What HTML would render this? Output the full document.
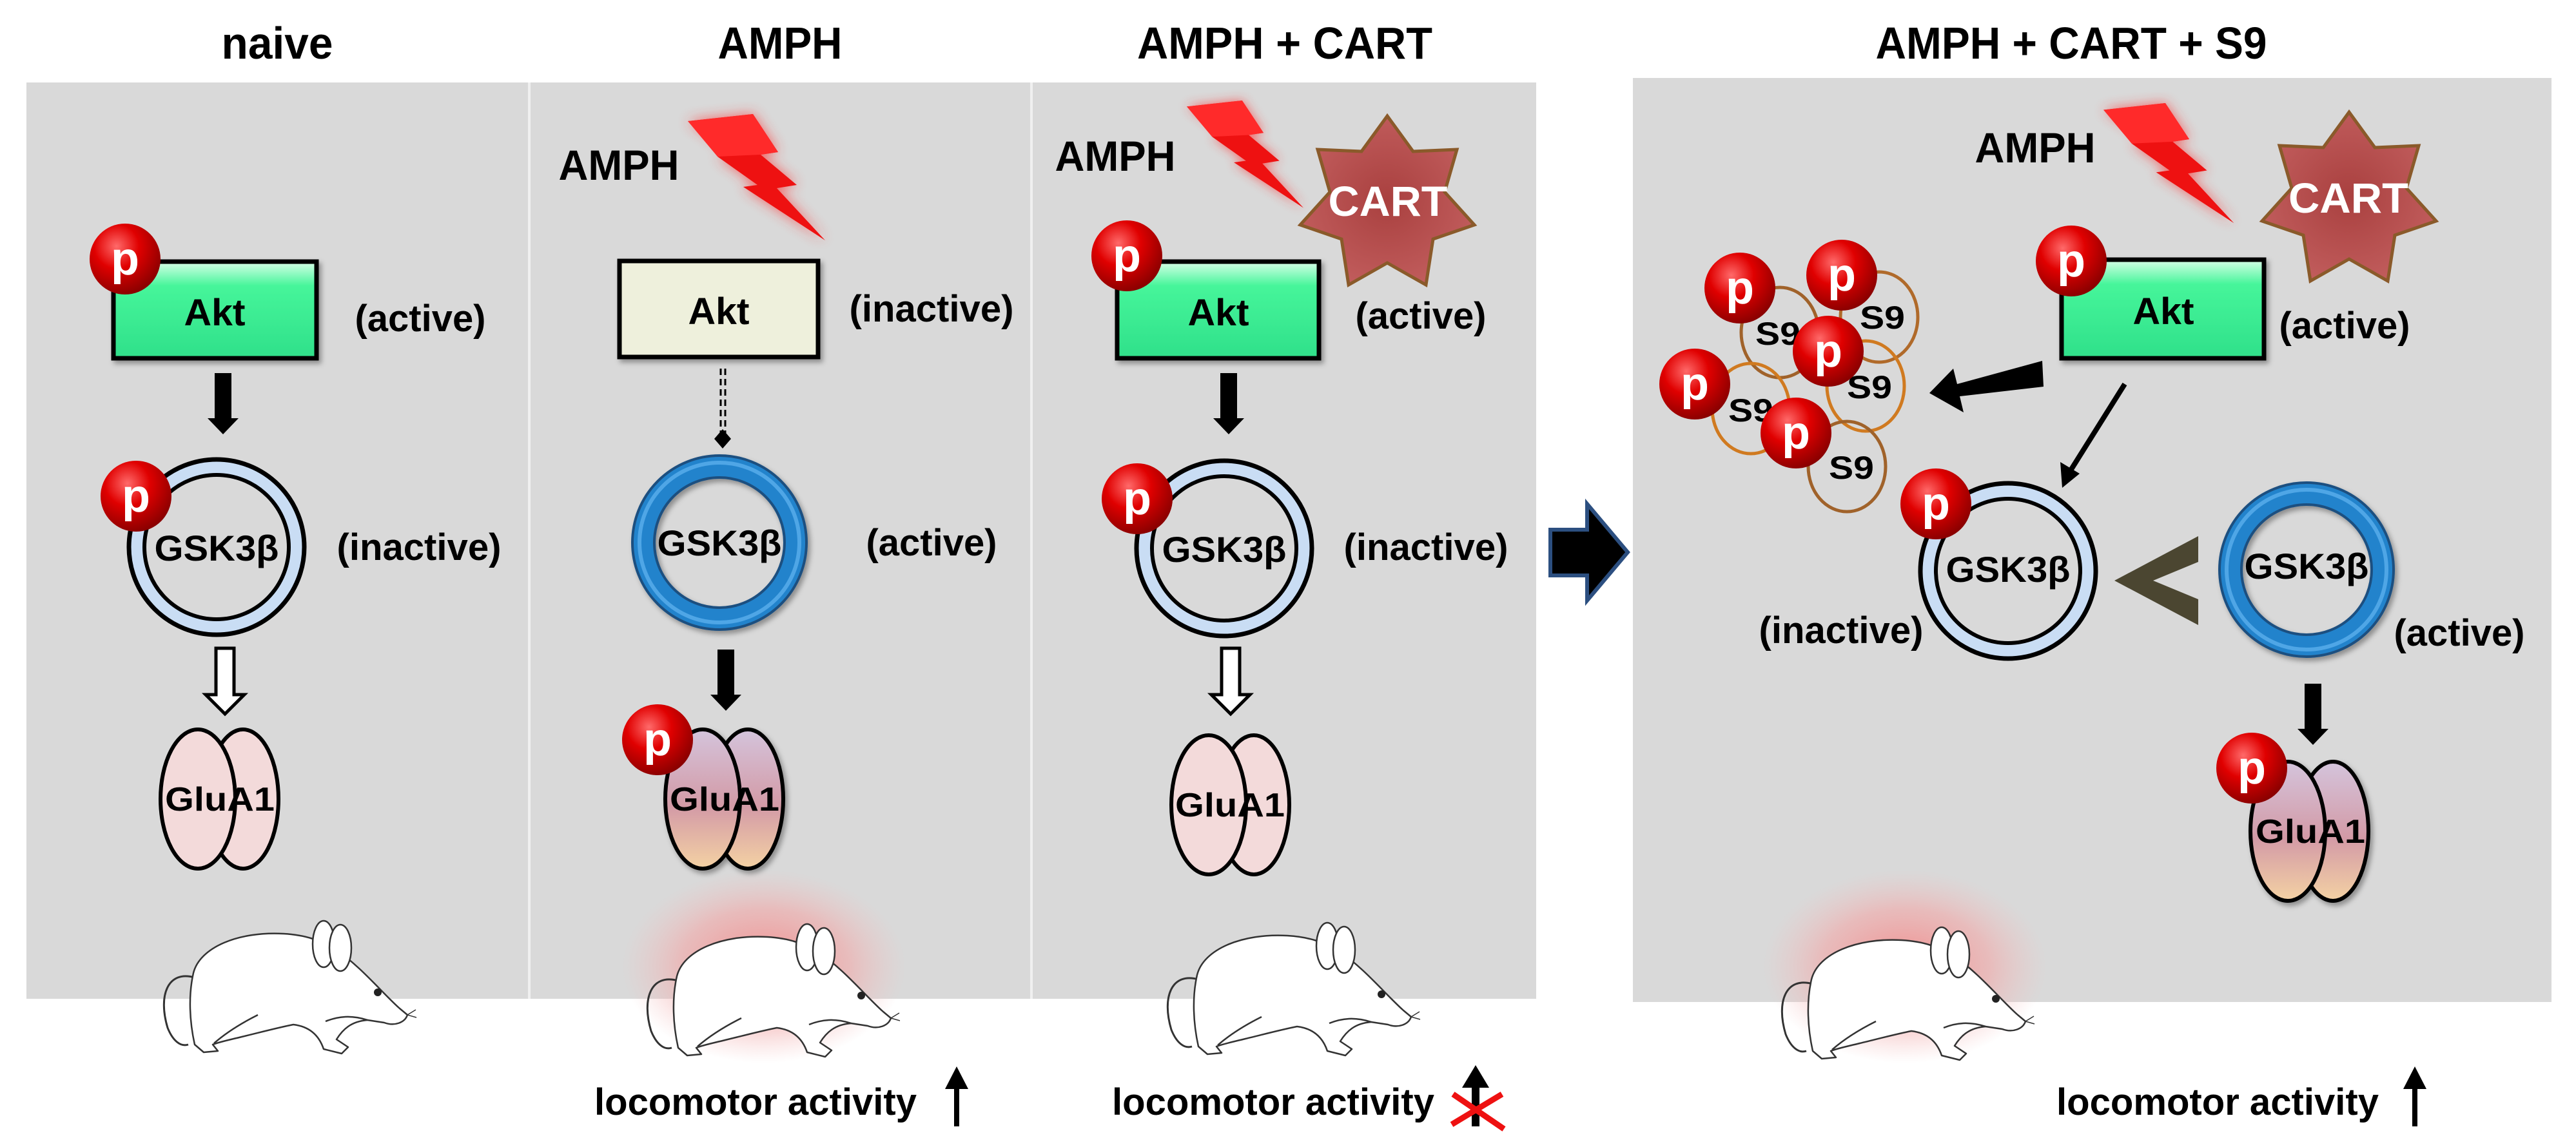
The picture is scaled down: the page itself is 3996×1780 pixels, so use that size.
<!DOCTYPE html>
<html><head><meta charset="utf-8"><style>
html,body{margin:0;padding:0;background:#fff}
svg{display:block}
text{font-family:"Liberation Sans",Arial,sans-serif;font-weight:bold;fill:#000}
</style></head><body>
<svg width="3996" height="1780" viewBox="0 0 3996 1780" xmlns="http://www.w3.org/2000/svg">
<defs>
<radialGradient id="pg" cx="0.38" cy="0.32" r="0.7">
<stop offset="0" stop-color="#ff6a6a"/><stop offset="0.45" stop-color="#e00000"/><stop offset="1" stop-color="#8a0000"/>
</radialGradient>
<linearGradient id="akt" x1="0" y1="0" x2="0" y2="1">
<stop offset="0" stop-color="#d8ffe8"/><stop offset="0.25" stop-color="#46f59a"/><stop offset="1" stop-color="#2fe08a"/>
</linearGradient>
<linearGradient id="glu2" x1="0" y1="0" x2="0" y2="1">
<stop offset="0" stop-color="#d4c4dc"/><stop offset="0.55" stop-color="#d39aa6"/><stop offset="1" stop-color="#f4d2a4"/>
</linearGradient>
<radialGradient id="star" cx="0.5" cy="0.5" r="0.6">
<stop offset="0" stop-color="#a9403f"/><stop offset="1" stop-color="#c46060"/>
</radialGradient>
<radialGradient id="glow" cx="0.5" cy="0.5" r="0.5">
<stop offset="0" stop-color="#f08a8a" stop-opacity="1"/><stop offset="0.6" stop-color="#f2a8a8" stop-opacity="0.6"/><stop offset="1" stop-color="#f2c0c0" stop-opacity="0"/>
</radialGradient>
<filter id="blur" x="-30%" y="-30%" width="160%" height="160%"><feGaussianBlur stdDeviation="10"/></filter>
<filter id="sh" x="-10%" y="-10%" width="130%" height="130%"><feDropShadow dx="4" dy="5" stdDeviation="4" flood-opacity="0.35"/></filter>
<g id="bolt">
<polygon points="0,11 101,0 140,59 113,63 169,110 138,115 213,196 86,113 108,110 46,66 73,63" fill="#ff3030" filter="url(#blur)" opacity="0.7"/>
<polygon points="0,11 101,0 140,59 113,63 169,110 138,115 213,196 86,113 108,110 46,66 73,63" fill="#ee1111"/>
<polygon points="0,11 101,0 140,59 113,63 46,66" fill="#ff2a2a"/>
</g>
<g id="mouse" fill="#fff" stroke="#333" stroke-width="2.5" stroke-linejoin="round">
<path d="M62,92 C20,80 5,120 20,170 C28,190 40,200 52,196" fill="none" stroke-width="3"/>
<path d="M60,85 C70,45 130,20 200,24 C235,26 255,34 280,48 C320,75 352,115 380,140 L392,150 C388,162 372,168 356,162 L330,158 C305,160 292,172 282,188 L300,200 L290,210 L262,203 C255,182 240,168 215,165 C190,170 160,178 135,184 C115,189 100,192 90,196 L98,206 L76,208 L62,196 C54,160 52,120 60,85 Z"/>
<path d="M160,150 C130,165 108,180 92,194" fill="none"/>
<path d="M330,158 C305,150 285,152 265,160" fill="none"/>
<ellipse cx="262" cy="40" rx="17" ry="36"/>
<ellipse cx="288" cy="46" rx="17" ry="36"/>
<circle cx="346" cy="115" r="6" fill="#222" stroke="none"/>
<path d="M392,150 L405,142 M392,150 L406,154" stroke-width="1.5"/>
</g>
<g id="p"><circle r="55" fill="url(#pg)"/><text y="24" font-size="72" text-anchor="middle" style="fill:#fff;font-weight:bold">p</text></g>
<g id="barrow"><polygon points="-13,0 13,0 13,70 24,70 0,95 -24,70 -13,70" fill="#000"/></g>
<g id="warrow"><polygon points="-14,0 14,0 14,72 30,72 0,102 -30,72 -14,72" fill="#fff" stroke="#000" stroke-width="5"/></g>
<g id="iring"><circle r="124" fill="none" stroke="#c9ddf4" stroke-width="24"/><circle r="136" fill="none" stroke="#000" stroke-width="7"/><circle r="112" fill="none" stroke="#000" stroke-width="6"/></g>
<g id="aring" filter="url(#sh)"><circle r="118" fill="none" stroke="#1a4f80" stroke-width="38"/><circle r="118" fill="none" stroke="#2383cc" stroke-width="30"/><circle r="124" fill="none" stroke="#4fa6e6" stroke-width="6"/></g>
<g id="glu1"><ellipse cx="70" cy="0" rx="55" ry="108" fill="#f3dada" stroke="#000" stroke-width="6"/><ellipse cx="0" cy="0" rx="58" ry="108" fill="#f3dada" stroke="#000" stroke-width="6"/></g>
<g id="glu2g" filter="url(#sh)"><ellipse cx="70" cy="0" rx="55" ry="108" fill="url(#glu2)" stroke="#000" stroke-width="6"/><ellipse cx="0" cy="0" rx="58" ry="108" fill="url(#glu2)" stroke="#000" stroke-width="6"/></g>
<g id="star7"><polygon points="0,-138 40,-83 108,-86 89,-20 135,31 71,53 60,124 0,90 -60,124 -71,53 -135,31 -89,-20 -108,-86 -40,-83" fill="url(#star)" stroke="#8a5a2a" stroke-width="5"/></g>
</defs>

<rect x="41" y="128" width="780" height="1422" fill="#d9d9d9"/>
<rect x="821" y="128" width="779" height="1422" fill="#d9d9d9"/>
<rect x="1600" y="128" width="783" height="1422" fill="#d9d9d9"/>
<line x1="821" y1="128" x2="821" y2="1550" stroke="#f0f0f0" stroke-width="4"/>
<line x1="1600" y1="128" x2="1600" y2="1550" stroke="#f0f0f0" stroke-width="4"/>
<rect x="2533" y="121" width="1425" height="1434" fill="#d9d9d9"/>

<text x="430" y="91" font-size="70" text-anchor="middle" textLength="173" lengthAdjust="spacingAndGlyphs">naive</text>
<text x="1210" y="91" font-size="70" text-anchor="middle" textLength="193" lengthAdjust="spacingAndGlyphs">AMPH</text>
<text x="1993" y="91" font-size="70" text-anchor="middle" textLength="458" lengthAdjust="spacingAndGlyphs">AMPH + CART</text>
<text x="3213" y="91" font-size="70" text-anchor="middle" textLength="607" lengthAdjust="spacingAndGlyphs">AMPH + CART + S9</text>

<polygon points="2405,822 2462,822 2462,782 2525,857 2462,932 2462,893 2405,893" fill="#000" stroke="#2c4f80" stroke-width="6"/>

<!-- Panel 1 -->
<rect x="176" y="406" width="315" height="150" fill="url(#akt)" stroke="#000" stroke-width="7" filter="url(#sh)"/>
<text x="333" y="505" font-size="58" text-anchor="middle" textLength="95" lengthAdjust="spacingAndGlyphs">Akt</text>
<use href="#p" x="194" y="402"/>
<text x="652" y="514" font-size="58" text-anchor="middle" textLength="203" lengthAdjust="spacingAndGlyphs">(active)</text>
<use href="#barrow" x="346" y="579"/>
<use href="#iring" x="336" y="849"/>
<use href="#p" x="211" y="770"/>
<text x="336" y="870" font-size="56" text-anchor="middle" textLength="193" lengthAdjust="spacingAndGlyphs">GSK3β</text>
<text x="650" y="869" font-size="58" text-anchor="middle" textLength="255" lengthAdjust="spacingAndGlyphs">(inactive)</text>
<use href="#warrow" x="349" y="1006"/>
<use href="#glu1" x="307" y="1240"/>
<text x="341" y="1258" font-size="52" text-anchor="middle" textLength="170" lengthAdjust="spacingAndGlyphs">GluA1</text>
<use href="#mouse" x="240" y="1425"/>

<!-- Panel 2 -->
<text x="960" y="279" font-size="66" text-anchor="middle" textLength="187" lengthAdjust="spacingAndGlyphs">AMPH</text>
<use href="#bolt" x="1067" y="177"/>
<rect x="961" y="405" width="308" height="149" fill="#eef0dc" stroke="#000" stroke-width="7" filter="url(#sh)"/>
<text x="1115" y="503" font-size="58" text-anchor="middle" textLength="95" lengthAdjust="spacingAndGlyphs">Akt</text>
<text x="1445" y="499" font-size="58" text-anchor="middle" textLength="255" lengthAdjust="spacingAndGlyphs">(inactive)</text>
<line x1="1118" y1="572" x2="1118" y2="672" stroke="#000" stroke-width="3" stroke-dasharray="10,6"/>
<line x1="1125" y1="572" x2="1125" y2="672" stroke="#000" stroke-width="3" stroke-dasharray="10,6"/>
<polygon points="1121,666 1134,681 1121,696 1108,681" fill="#000"/>
<use href="#aring" x="1116" y="842"/>
<text x="1116" y="862" font-size="56" text-anchor="middle" textLength="193" lengthAdjust="spacingAndGlyphs">GSK3β</text>
<text x="1445" y="862" font-size="58" text-anchor="middle" textLength="203" lengthAdjust="spacingAndGlyphs">(active)</text>
<use href="#barrow" x="1126" y="1008"/>
<use href="#glu2g" x="1090" y="1240"/>
<use href="#p" x="1020" y="1148"/>
<text x="1124" y="1258" font-size="52" text-anchor="middle" textLength="170" lengthAdjust="spacingAndGlyphs">GluA1</text>
<ellipse cx="1185" cy="1500" rx="220" ry="150" fill="url(#glow)"/>
<use href="#mouse" x="990" y="1430"/>
<text x="1172" y="1730" font-size="58" text-anchor="middle" textLength="500" lengthAdjust="spacingAndGlyphs">locomotor activity</text>
<polygon points="1480,1748 1488,1748 1488,1690 1502,1690 1484,1655 1466,1690 1480,1690" fill="#000"/>

<!-- Panel 3 -->
<text x="1730" y="265" font-size="66" text-anchor="middle" textLength="187" lengthAdjust="spacingAndGlyphs">AMPH</text>
<use href="#bolt" transform="translate(1841,156) scale(0.85)"/>
<use href="#star7" x="2152" y="318"/>
<text x="2153" y="335" font-size="66" text-anchor="middle" textLength="185" lengthAdjust="spacingAndGlyphs" style="fill:#fff">CART</text>
<rect x="1733" y="406" width="313" height="150" fill="url(#akt)" stroke="#000" stroke-width="7" filter="url(#sh)"/>
<text x="1890" y="505" font-size="58" text-anchor="middle" textLength="95" lengthAdjust="spacingAndGlyphs">Akt</text>
<use href="#p" x="1748" y="397"/>
<text x="2204" y="510" font-size="58" text-anchor="middle" textLength="203" lengthAdjust="spacingAndGlyphs">(active)</text>
<use href="#barrow" x="1906" y="579"/>
<use href="#iring" x="1899" y="851"/>
<use href="#p" x="1764" y="774"/>
<text x="1899" y="872" font-size="56" text-anchor="middle" textLength="193" lengthAdjust="spacingAndGlyphs">GSK3β</text>
<text x="2212" y="869" font-size="58" text-anchor="middle" textLength="255" lengthAdjust="spacingAndGlyphs">(inactive)</text>
<use href="#warrow" x="1909" y="1006"/>
<use href="#glu1" x="1875" y="1249"/>
<text x="1908" y="1267" font-size="52" text-anchor="middle" textLength="170" lengthAdjust="spacingAndGlyphs">GluA1</text>
<use href="#mouse" x="1797" y="1428"/>
<text x="1975" y="1730" font-size="58" text-anchor="middle" textLength="500" lengthAdjust="spacingAndGlyphs">locomotor activity</text>
<polygon points="2283,1748 2295,1748 2295,1688 2310,1688 2289,1653 2268,1688 2283,1688" fill="#000"/>
<line x1="2254" y1="1698" x2="2333" y2="1752" stroke="#ee1111" stroke-width="9"/>
<line x1="2330" y1="1698" x2="2252" y2="1745" stroke="#ee1111" stroke-width="9"/>

<!-- Right panel -->
<text x="3157" y="252" font-size="66" text-anchor="middle" textLength="187" lengthAdjust="spacingAndGlyphs">AMPH</text>
<use href="#bolt" transform="translate(3263,160) scale(0.95)"/>
<use href="#star7" x="3644" y="312"/>
<text x="3643" y="330" font-size="66" text-anchor="middle" textLength="186" lengthAdjust="spacingAndGlyphs" style="fill:#fff">CART</text>
<rect x="3198" y="403" width="314" height="153" fill="url(#akt)" stroke="#000" stroke-width="7" filter="url(#sh)"/>
<text x="3356" y="503" font-size="58" text-anchor="middle" textLength="95" lengthAdjust="spacingAndGlyphs">Akt</text>
<use href="#p" x="3213" y="405"/>
<text x="3637" y="525" font-size="58" text-anchor="middle" textLength="203" lengthAdjust="spacingAndGlyphs">(active)</text>

<g fill="none" stroke-width="5">
<ellipse cx="2761" cy="516" rx="60" ry="70" stroke="#a0622a"/>
<ellipse cx="2915" cy="492" rx="60" ry="70" stroke="#b06a2a"/>
<ellipse cx="2716" cy="634" rx="60" ry="70" stroke="#d07a20"/>
<ellipse cx="2894" cy="599" rx="60" ry="70" stroke="#d07a20"/>
<ellipse cx="2865" cy="724" rx="60" ry="70" stroke="#a0622a"/>
</g>
<g font-size="50">
<text x="2758" y="535" text-anchor="middle" textLength="70" lengthAdjust="spacingAndGlyphs">S9</text>
<text x="2920" y="510" text-anchor="middle" textLength="70" lengthAdjust="spacingAndGlyphs">S9</text>
<text x="2900" y="618" text-anchor="middle" textLength="70" lengthAdjust="spacingAndGlyphs">S9</text>
<text x="2716" y="654" text-anchor="middle" textLength="70" lengthAdjust="spacingAndGlyphs">S9</text>
<text x="2872" y="743" text-anchor="middle" textLength="70" lengthAdjust="spacingAndGlyphs">S9</text>
</g>
<use href="#p" x="2699" y="447"/>
<use href="#p" x="2857" y="427"/>
<use href="#p" x="2836" y="545"/>
<use href="#p" x="2629" y="596"/>
<use href="#p" x="2786" y="672"/>

<polygon points="3168,560 3170,600 3040,615 3046,640 2993,610 3030,572 3036,596" fill="#000"/>
<line x1="3296" y1="596" x2="3212" y2="730" stroke="#000" stroke-width="8"/>
<polygon points="3199,757 3196,717 3226,735" fill="#000"/>

<use href="#iring" x="3115" y="886"/>
<use href="#p" x="3003" y="782"/>
<text x="3115" y="903" font-size="56" text-anchor="middle" textLength="193" lengthAdjust="spacingAndGlyphs">GSK3β</text>
<text x="2856" y="998" font-size="58" text-anchor="middle" textLength="255" lengthAdjust="spacingAndGlyphs">(inactive)</text>
<polygon points="3410,832 3410,872 3340,901 3410,930 3410,970 3280,901" fill="#4b4631"/>
<use href="#aring" x="3578" y="884"/>
<text x="3578" y="898" font-size="56" text-anchor="middle" textLength="193" lengthAdjust="spacingAndGlyphs">GSK3β</text>
<text x="3815" y="1002" font-size="58" text-anchor="middle" textLength="203" lengthAdjust="spacingAndGlyphs">(active)</text>
<use href="#barrow" x="3588" y="1061"/>
<use href="#glu2g" x="3549" y="1290"/>
<use href="#p" x="3493" y="1192"/>
<text x="3584" y="1308" font-size="52" text-anchor="middle" textLength="170" lengthAdjust="spacingAndGlyphs">GluA1</text>
<ellipse cx="2955" cy="1500" rx="220" ry="150" fill="url(#glow)"/>
<use href="#mouse" x="2750" y="1435"/>
<text x="3440" y="1730" font-size="58" text-anchor="middle" textLength="500" lengthAdjust="spacingAndGlyphs">locomotor activity</text>
<polygon points="3742,1748 3750,1748 3750,1690 3764,1690 3746,1655 3728,1690 3742,1690" fill="#000"/>
</svg>
</body></html>
